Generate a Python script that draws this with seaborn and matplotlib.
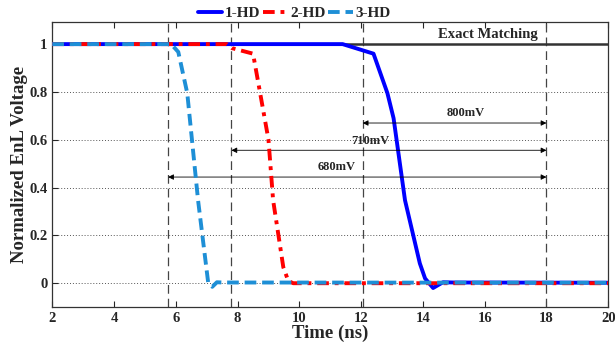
import numpy as np
import pandas as pd
import matplotlib
matplotlib.use("Agg")
import matplotlib.pyplot as plt
import seaborn as sns

# curves (time in ns, normalized voltage)
t_1hd = [2, 11.4, 12.4, 12.85, 13.05, 13.42, 13.9, 14.07, 14.33, 14.65, 15.0, 20]
v_1hd = [1, 1, 0.96, 0.795, 0.69, 0.347, 0.083, 0.02, -0.02, 0.004, 0.003, 0.002]

t_2hd = [2, 7.66, 7.82, 8.5, 8.73, 9.0, 9.15, 9.48, 9.64, 9.8, 20]
v_2hd = [1, 1, 0.983, 0.96, 0.795, 0.6, 0.347, 0.067, 0.01, 0.0, 0.0]

t_3hd = [2, 5.85, 6.08, 6.37, 6.72, 7.05, 7.18, 7.33, 7.5, 20]
v_3hd = [1, 1, 0.967, 0.795, 0.347, 0.0, -0.015, 0.004, 0.003, 0.002]

# vertical markers and arrows
vlines = [5.75, 7.8, 12.05, 18.0]
arrow_start = [12.05, 7.8, 5.75]
arrow_end = [18.0, 18.0, 18.0]
arrow_level = [0.67, 0.556, 0.444]
arrow_text = ["800mV", "710mV", "680mV"]
arrow_text_x = [15.4, 12.3, 11.2]

sns.set_style("ticks")
plt.rcParams['font.family'] = ['Liberation Serif', 'DejaVu Serif']
plt.rcParams['font.weight'] = 'bold'

fig, ax = plt.subplots(figsize=(6.15, 3.51), dpi=100)
fig.subplots_adjust(left=0.085, right=0.989, top=0.937, bottom=0.125)

for y in [0, 0.2, 0.4, 0.6, 0.8]:
    ax.axhline(y, color="#555555", lw=0.7, ls=(0, (1, 2)), zorder=0)
for x in vlines:
    ax.axvline(x, color="#444444", lw=0.9, ls=(0, (7, 4)), zorder=1)

ax.axhline(1, color="#333333", lw=1.8, zorder=1)
ax.text(16.1, 1.015, "Exact Matching", fontsize=10.5, fontweight="bold", ha="center", va="bottom")

df1 = pd.DataFrame({"t": t_1hd, "v": v_1hd})
df2 = pd.DataFrame({"t": t_2hd, "v": v_2hd})
df3 = pd.DataFrame({"t": t_3hd, "v": v_3hd})
sns.lineplot(data=df1, x="t", y="v", ax=ax, color="#0000ff", lw=2.8, label="1-HD", zorder=3)
sns.lineplot(data=df2, x="t", y="v", ax=ax, color="#ff0000", lw=2.8, label="2-HD",
             ls=(0, (3, 1.5, 1, 1.5)), zorder=4)
sns.lineplot(data=df3, x="t", y="v", ax=ax, color="#1e8fd6", lw=2.8, label="3-HD",
             ls=(0, (3, 1.5)), zorder=5)

for x0, x1, y, s, tx in zip(arrow_start, arrow_end, arrow_level, arrow_text, arrow_text_x):
    ax.annotate("", xy=(x0, y), xytext=(x1, y),
                arrowprops=dict(arrowstyle="<|-|>", color="black", lw=0.6,
                                mutation_scale=8, shrinkA=0, shrinkB=0))
    ax.text(tx, y + 0.015, s, fontsize=9, fontweight="bold", ha="center", va="bottom")

ax.set_xlim(2, 20)
ax.set_ylim(-0.1, 1.092)
ax.set_xticks(np.arange(2, 21, 2))
ax.set_yticks([0, 0.2, 0.4, 0.6, 0.8, 1])
ax.set_yticklabels(["0", "0.2", "0.4", "0.6", "0.8", "1"])
ax.tick_params(axis="both", labelsize=10.5, direction="in", length=4, top=True, right=False)
ax.set_xlabel("Time (ns)", fontsize=13.5, fontweight="bold", labelpad=0)
ax.set_ylabel("Normalized EnL Voltage", fontsize=13.5, fontweight="bold", labelpad=1)
for sp in ax.spines.values():
    sp.set_linewidth(0.9)
    sp.set_color("#333333")

ax.legend(loc="lower center", bbox_to_anchor=(0.435, 0.985), ncol=3, frameon=False,
          handlelength=1.6, columnspacing=0.2, handletextpad=0.15,
          borderaxespad=0, prop={"weight": "bold", "size": 11})

fig.savefig("out.png", dpi=100)
